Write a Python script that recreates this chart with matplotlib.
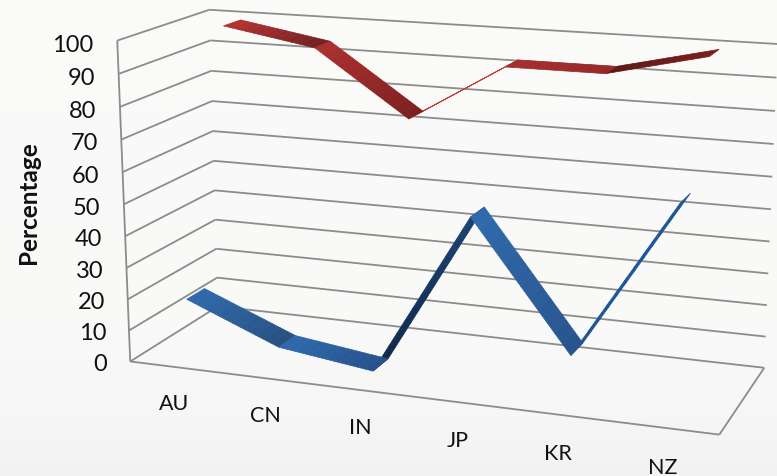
import numpy as np
import matplotlib
matplotlib.use("Agg")
import matplotlib.pyplot as plt
from matplotlib.colors import to_rgb
from mpl_toolkits.mplot3d.art3d import Poly3DCollection, Line3DCollection

categories = ["AU", "CN", "IN", "JP", "KR", "NZ"]
red_values = [99, 94, 74, 92, 92, 99]
blue_values = [19, 7, 3, 53.5, 15, 63]
value_ticks = list(range(0, 101, 10))

W, H = 777, 477
FONT = "Lato"
GRID = "#8c8c8c"
INK = "#111111"

# Camera: maps (category position, depth, value, 1) to homogeneous pixel coordinates.
CAMERA = np.array([
    [86.73199303, 106.55269764, -0.17654875, 130.23423684],
    [5.25447334, -28.63969636, -3.22564526, 362.46743956],
    [-0.01592557, 0.08629286, -0.00040013, 1.0],
])

fig = plt.figure(figsize=(W / 100, H / 100), dpi=100)

# Soft vertical backdrop
backdrop = fig.add_axes([0, 0, 1, 1], zorder=-1)
shade = np.interp(np.arange(H), [0, 330, 420, H], [250.5, 249, 246, 242]) / 255
backdrop.imshow(np.stack([shade, shade, shade - 0.002], axis=1)[:, None, :], aspect="auto",
                extent=(0, 1, 0, 1), origin="upper")
backdrop.axis("off")

ax = fig.add_axes([0, (H - W) / 2 / H, 1, W / H], projection="3d", computed_zorder=False)
ax.set_axis_off()
ax.patch.set_alpha(0)


def scene_matrix():
    """Full 4x4 projection from data space into the axes' 2D coordinates."""
    to_axes = ax.transData.inverted().get_matrix()
    flip = np.array([[1, 0, 0], [0, -1, H], [0, 0, 1]], float)
    pix = to_axes @ flip @ CAMERA
    return np.array([pix[0], pix[1], [0, 0.1, 0, 0], pix[2]])


ax.get_proj = scene_matrix


def label(x, depth, value, text, **kw):
    """Place a flat label at the pixel position of a point in data space."""
    h = CAMERA @ np.array([x, depth, value, 1.0])
    fig.text(h[0] / h[2] / W, 1 - h[1] / h[2] / H, text, family=FONT, color=INK, **kw)


n_cat = len(categories)
walls = []
for tick in value_ticks:
    walls.append([(0, 0, tick), (0, 1, tick)])
    walls.append([(0, 1, tick), (n_cat, 1, tick)])
    label(-0.26, 0, tick - 1.6, str(tick), ha="right", va="center", fontsize=17)
walls.append([(0, 0, value_ticks[0]), (0, 0, value_ticks[-1])])
walls.append([(0, 0, 0), (n_cat, 0, 0)])
walls.append([(n_cat, 0, 0), (n_cat, 1, 0)])
ax.add_collection3d(Line3DCollection(walls, colors=GRID, linewidths=1.3, zorder=1, clip_on=False))

for i, name in enumerate(categories):
    label(i + 0.48, 0, -11.7, name, ha="center", va="center", fontsize=15.5)


def ribbon(values, depth, styles, edge, order):
    """Flat strip between two depths, shaded along each segment."""
    front, back = depth
    for i in order:
        start, end = styles[i]
        start, end = np.array(to_rgb(start)), np.array(to_rgb(end))
        t = np.linspace(0, 1, 13)
        x = i + 0.5 + t
        v = values[i] + (values[i + 1] - values[i]) * t
        quads, tints = [], []
        for k in range(len(t) - 1):
            quads.append([(x[k], front, v[k]), (x[k + 1], front, v[k + 1]),
                          (x[k + 1], back, v[k + 1]), (x[k], back, v[k])])
            tints.append(start + (end - start) * t[k])
        zo = 5 + list(order).index(i) * 0.1
        ax.add_collection3d(Poly3DCollection(quads, facecolors=tints, edgecolors=tints,
                                             linewidths=0.5, zorder=zo, clip_on=False))
        ax.plot(x, [front] * len(x), v, color=edge, lw=0.9, zorder=zo + 0.05, clip_on=False)


red_styles = [("#b23232", "#6f2020"), ("#ab3030", "#7a2020"), ("#c23c3c", "#c23c3c"),
              ("#a62e2e", "#962929"), ("#5f1717", "#7e1f1f")]
blue_styles = [("#3069ab", "#28507f"), ("#3069ab", "#26508a"), ("#10294c", "#1c4474"),
               ("#306aab", "#28538c"), ("#1d5596", "#1d5596")]

ribbon(red_values, (0.65, 0.85), red_styles, "#c84444", [2, 4, 0, 1, 3])
ribbon(blue_values, (0.15, 0.35), blue_styles, "#3f7cc4", [2, 4, 0, 1, 3])

fig.text(28 / W, 1 - 203 / H, "Percentage", rotation=90, ha="center", va="center",
         family=FONT, fontweight="bold", fontsize=17.5, color=INK)

fig.savefig("out.png", dpi=100)
